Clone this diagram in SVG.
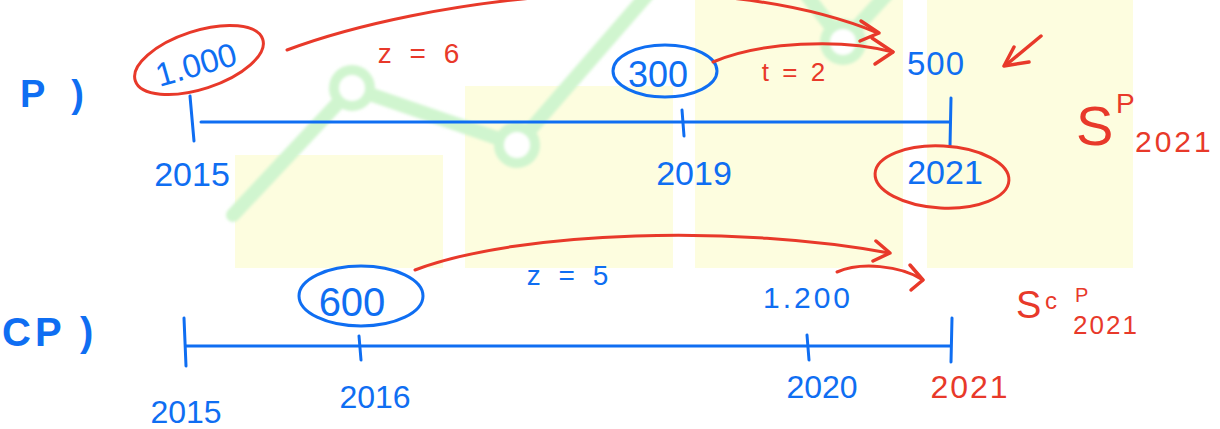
<svg xmlns="http://www.w3.org/2000/svg" width="1220" height="429" viewBox="0 0 1220 429">
<defs>
<filter id="soft" x="-10%" y="-10%" width="120%" height="120%"><feGaussianBlur stdDeviation="1.4"/></filter>
</defs>
<style>
.bar{fill:#fdfddf}
.gl{fill:none;stroke:#d0f5cf;stroke-width:14;stroke-linejoin:round;stroke-linecap:round}
.gc{fill:#ffffff;stroke:#d0f5cf;stroke-width:10}
.b{fill:#0f6ef2;font-family:"Liberation Sans",Arial,sans-serif}
.r{fill:#e8392a;font-family:"Liberation Sans",Arial,sans-serif}
.bs{fill:none;stroke:#0f6ef2;stroke-width:3;stroke-linecap:round;stroke-linejoin:round}
.rs{fill:none;stroke:#e8392a;stroke-width:3;stroke-linecap:round;stroke-linejoin:round}
.ra{fill:none;stroke:#e8392a;stroke-width:3.5;stroke-linecap:round;stroke-linejoin:round}
</style>
<rect width="1220" height="429" fill="#ffffff"/>
<g id="background">
<rect class="bar" x="235" y="155" width="208" height="113"/>
<rect class="bar" x="465" y="86" width="208" height="182"/>
<rect class="bar" x="695" y="0" width="208" height="268"/>
<rect class="bar" x="927" y="0" width="206" height="268"/>
<g filter="url(#soft)">
<polyline class="gl" points="233,215 352,88 517,145 660,-20"/>
<polyline class="gl" points="795,-20 843,42 900,-20"/>
<circle class="gc" cx="352" cy="88" r="18"/>
<circle class="gc" cx="517" cy="145" r="18"/>
<circle class="gc" cx="843" cy="42" r="18"/>
</g>
</g>
<g id="label-P"><text class="b" x="20" y="107" font-size="38" font-weight="bold" letter-spacing="8">P )</text></g>
<g id="timeline-P">
<path class="bs" d="M201,122 L950,122"/>
<path class="bs" d="M190,96 L194,141" stroke-width="5.5"/>
<path class="bs" d="M682,110 L684,136"/>
<path class="bs" d="M951,98 L950,146" stroke-width="5.5"/>
</g>
<g id="val-1000">
<ellipse class="rs" cx="199" cy="60" rx="67" ry="29" transform="rotate(-18 199 60)"/>
<text class="b" x="196" y="76" font-size="33" text-anchor="middle" transform="rotate(-16 196 64)">1.000</text>
</g>
<g id="val-300">
<ellipse class="bs" cx="665" cy="71" rx="52" ry="26"/>
<text class="b" x="658" y="87" font-size="36" text-anchor="middle">300</text>
</g>
<g id="val-500"><text class="b" x="936" y="75" font-size="33" text-anchor="middle" letter-spacing="1">500</text></g>
<g id="year-2015-P"><text class="b" x="192" y="186" font-size="34" text-anchor="middle">2015</text></g>
<g id="year-2019-P"><text class="b" x="694" y="185" font-size="34" text-anchor="middle">2019</text></g>
<g id="year-2021-P">
<ellipse class="rs" cx="942" cy="177" rx="67" ry="31" transform="rotate(3 942 177)"/>
<text class="b" x="945" y="184" font-size="34" text-anchor="middle">2021</text>
</g>
<g id="z6"><text class="r" x="421" y="63" font-size="28" text-anchor="middle" letter-spacing="5">z = 6</text></g>
<g id="t2"><text class="r" x="795" y="81" font-size="26" text-anchor="middle" letter-spacing="3">t = 2</text></g>
<g id="SP2021">
<text class="r" x="1076" y="145" font-size="56">S</text>
<text class="r" x="1116" y="113" font-size="28">P</text>
<text class="r" x="1135" y="152" font-size="30" letter-spacing="3">2021</text>
</g>
<g id="label-CP"><text class="b" x="2" y="346" font-size="40" font-weight="bold" letter-spacing="4">CP )</text></g>
<g id="timeline-CP">
<path class="bs" d="M186,346 L950,346"/>
<path class="bs" d="M184,318 L186,366" stroke-width="3.5"/>
<path class="bs" d="M359,336 L361,360"/>
<path class="bs" d="M807,335 L809,360"/>
<path class="bs" d="M952,318 L951,362" stroke-width="4"/>
</g>
<g id="val-600">
<ellipse class="bs" cx="361" cy="296" rx="62" ry="30"/>
<text class="b" x="352" y="316" font-size="40" text-anchor="middle">600</text>
</g>
<g id="z5"><text class="b" x="570" y="285" font-size="28" text-anchor="middle" letter-spacing="5">z = 5</text></g>
<g id="val-1200"><text class="b" x="808" y="308" font-size="30" text-anchor="middle" letter-spacing="3">1.200</text></g>
<g id="year-2015-CP"><text class="b" x="186" y="423" font-size="32" text-anchor="middle">2015</text></g>
<g id="year-2016-CP"><text class="b" x="375" y="408" font-size="32" text-anchor="middle">2016</text></g>
<g id="year-2020-CP"><text class="b" x="822" y="398" font-size="32" text-anchor="middle">2020</text></g>
<g id="year-2021-CP"><text class="r" x="970" y="398" font-size="32" text-anchor="middle" letter-spacing="2">2021</text></g>
<g id="SCP2021">
<text class="r" x="1016" y="318" font-size="38">S</text>
<text class="r" x="1045" y="309" font-size="24">c</text>
<text class="r" x="1075" y="302" font-size="20">P</text>
<text class="r" x="1073" y="334" font-size="26" letter-spacing="2">2021</text>
</g>
<g id="connectors">
<path class="rs" d="M287,50 C420,0 700,-40 878,33"/>
<path class="ra" d="M861,21 L879,33 L860,41"/>
<path class="rs" d="M713,62 C760,42 840,38 893,52"/>
<path class="ra" d="M872,38 L893,52 L875,64"/>
<path class="rs" d="M415,270 C520,230 740,225 889,253"/>
<path class="ra" d="M876,241 L890,253 L873,261"/>
<path class="rs" d="M837,272 C860,262 900,265 923,280"/>
<path class="ra" d="M910,265 L923,280 L911,290"/>
<path class="ra" d="M1041,36 L1006,65"/>
<path class="ra" d="M1014,47 L1004,66 L1029,62"/>
</g>
</svg>
